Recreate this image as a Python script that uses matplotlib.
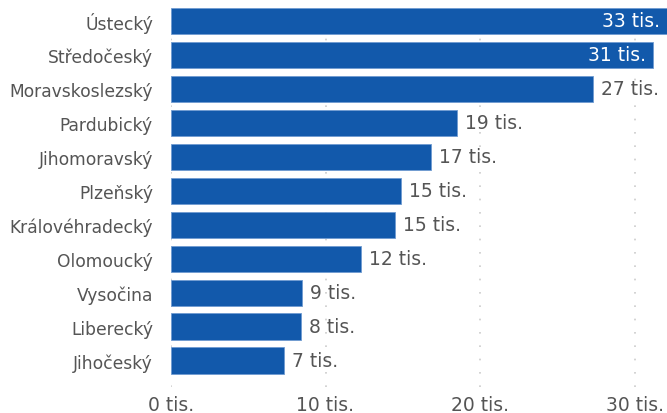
import matplotlib.pyplot as plt
from matplotlib.ticker import FixedLocator, FuncFormatter

# ---------------------------------------------------------------
# Data
# ---------------------------------------------------------------
regions = ["Ústecký", "Středočeský", "Moravskoslezský", "Pardubický",
           "Jihomoravský", "Plzeňský", "Královéhradecký", "Olomoucký",
           "Vysočina", "Liberecký", "Jihočeský"]
values = [33.2, 31.2, 27.3, 18.5, 16.8, 14.9, 14.5, 12.3, 8.5, 8.4, 7.3]
labels = ["33 tis.", "31 tis.", "27 tis.", "19 tis.", "17 tis.", "15 tis.",
          "15 tis.", "12 tis.", "9 tis.", "8 tis.", "7 tis."]
inside = [True, True] + [False] * 9
xticks = [0, 10, 20, 30]

BAR = "#1259ab"
TXT = "#555555"

# ---------------------------------------------------------------
# Figure
# ---------------------------------------------------------------
fig = plt.figure(figsize=(6.67, 4.14), dpi=100)
ax = fig.add_axes([171 / 667, 1 - 388 / 414, 1 - 171 / 667, 383 / 414])

xmax = (667 - 171) / 15.45
ypos = list(range(len(regions)))

ax.barh(ypos, values, height=0.77, color=BAR, edgecolor="#6f9bd1",
        linewidth=0.6, zorder=2)

px = xmax / (667 - 171)  # data units per pixel
for y, v, lab, ins in zip(ypos, values, labels, inside):
    if ins:
        ax.text(min(v, xmax) - 7 * px, y, lab, ha="right", va="center",
                color="white", fontsize=13.5, zorder=3)
    else:
        ax.text(v + 8 * px, y, lab, ha="left", va="center",
                color=TXT, fontsize=13.5, zorder=3)

ax.set_xlim(0, xmax)
ax.set_ylim(10.78, -0.5)
ax.set_yticks(ypos)
ax.set_yticklabels(regions)
ax.xaxis.set_major_locator(FixedLocator(xticks))
ax.xaxis.set_major_formatter(FuncFormatter(lambda x, p: f"{int(x)} tis."))

ax.tick_params(axis="y", length=0, pad=13, labelsize=12.3, labelcolor=TXT)
ax.tick_params(axis="x", length=0, pad=6, labelsize=13.5, labelcolor=TXT)

ax.grid(axis="x", color="#cccccc", linestyle=(0, (1, 7)), linewidth=1.2,
        zorder=1)
for s in ax.spines.values():
    s.set_visible(False)

fig.savefig("out.png", dpi=100)
